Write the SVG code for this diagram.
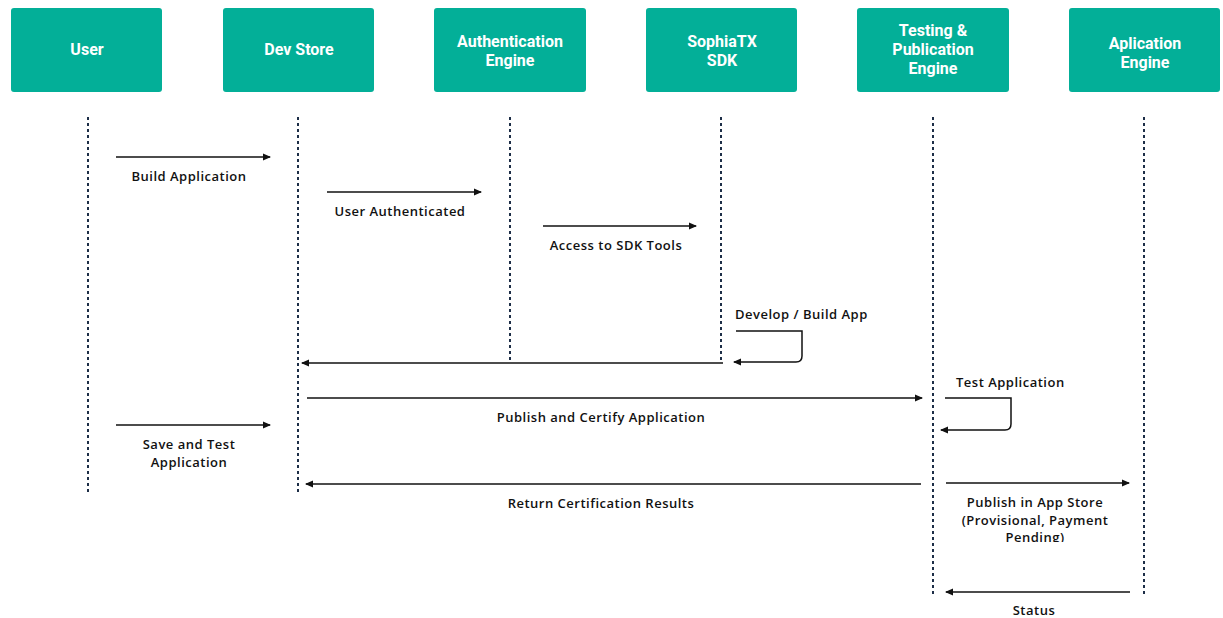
<svg xmlns="http://www.w3.org/2000/svg" width="1223" height="618" viewBox="0 0 1223 618">
<defs>
<style>
.box{fill:#03af98;}
.ht{fill:#ffffff;font-family:Roboto,"Liberation Sans",sans-serif;font-weight:bold;font-size:16px;text-anchor:middle;}
.life{stroke:#1d2e47;stroke-width:2;stroke-dasharray:3 3;fill:none;}
.msg{stroke:#111;stroke-width:1.5;fill:none;}
.lbl{fill:#111;font-family:"Open Sans","Liberation Sans",sans-serif;font-weight:600;font-size:13px;letter-spacing:0.5px;text-anchor:middle;}
.lbls{fill:#111;font-family:"Open Sans","Liberation Sans",sans-serif;font-weight:600;font-size:13px;letter-spacing:0.5px;}
</style>
<marker id="ah" viewBox="0 0 8 8" refX="7" refY="4" markerWidth="8" markerHeight="8" markerUnits="userSpaceOnUse" orient="auto">
<path d="M0,0.5 L8,4 L0,7.5 Z" fill="#111"/>
</marker>
<clipPath id="clipPub"><rect x="940" y="490" width="200" height="52"/></clipPath>
</defs>
<rect width="1223" height="618" fill="#ffffff"/>

<g id="node-user"><rect class="box" x="11" y="8" width="151" height="84" rx="3"/><text class="ht" x="87" y="55">User</text></g>
<g id="node-devstore"><rect class="box" x="223" y="8" width="151" height="84" rx="3"/><text class="ht" x="299" y="55">Dev Store</text></g>
<g id="node-auth"><rect class="box" x="434" y="8" width="152" height="84" rx="3"/><text class="ht" x="510" y="47">Authentication</text><text class="ht" x="510" y="66">Engine</text></g>
<g id="node-sdk"><rect class="box" x="646" y="8" width="151" height="84" rx="3"/><text class="ht" x="722" y="47">SophiaTX</text><text class="ht" x="722" y="66">SDK</text></g>
<g id="node-testing"><rect class="box" x="857" y="8" width="152" height="84" rx="3"/><text class="ht" x="933" y="36">Testing &amp;</text><text class="ht" x="933" y="55">Publication</text><text class="ht" x="933" y="74">Engine</text></g>
<g id="node-app"><rect class="box" x="1069" y="8" width="151" height="84" rx="3"/><text class="ht" x="1145" y="49">Aplication</text><text class="ht" x="1145" y="68">Engine</text></g>

<g id="lifelines">
<line class="life" x1="88" y1="117" x2="88" y2="495"/>
<line class="life" x1="298" y1="117" x2="298" y2="495"/>
<line class="life" x1="510" y1="117" x2="510" y2="360"/>
<line class="life" x1="721" y1="117" x2="721" y2="363"/>
<line class="life" x1="933" y1="117" x2="933" y2="596"/>
<line class="life" x1="1144" y1="117" x2="1144" y2="596"/>
</g>

<g id="connectors">
<line class="msg" x1="116" y1="157" x2="270" y2="157" marker-end="url(#ah)"/>
<line class="msg" x1="327" y1="192" x2="481" y2="192" marker-end="url(#ah)"/>
<line class="msg" x1="543" y1="226" x2="696" y2="226" marker-end="url(#ah)"/>
<path class="msg" d="M736,331 H802 V356 Q802,362 796,362 H734" marker-end="url(#ah)"/>
<line class="msg" x1="723" y1="363" x2="302" y2="363" marker-end="url(#ah)"/>
<line class="msg" x1="307" y1="398" x2="922" y2="398" marker-end="url(#ah)"/>
<path class="msg" d="M945,398 H1011 V424 Q1011,430 1005,430 H941" marker-end="url(#ah)"/>
<line class="msg" x1="116" y1="425" x2="270" y2="425" marker-end="url(#ah)"/>
<line class="msg" x1="921" y1="484" x2="306" y2="484" marker-end="url(#ah)"/>
<line class="msg" x1="946" y1="483" x2="1129" y2="483" marker-end="url(#ah)"/>
<line class="msg" x1="1130" y1="592" x2="946" y2="592" marker-end="url(#ah)"/>
</g>

<g id="labels">
<text class="lbl" x="189" y="181">Build Application</text>
<text class="lbl" x="400" y="216">User Authenticated</text>
<text class="lbl" x="616" y="250">Access to SDK Tools</text>
<text class="lbls" x="735" y="319">Develop / Build App</text>
<text class="lbls" x="956" y="387">Test Application</text>
<text class="lbl" x="601" y="422">Publish and Certify Application</text>
<text class="lbl" x="189" y="449">Save and Test</text>
<text class="lbl" x="189" y="467">Application</text>
<text class="lbl" x="601" y="508">Return Certification Results</text>
<g clip-path="url(#clipPub)">
<text class="lbl" x="1035" y="507">Publish in App Store</text>
<text class="lbl" x="1035" y="525">(Provisional, Payment</text>
<text class="lbl" x="1035" y="542">Pending)</text>
</g>
<text class="lbl" x="1034" y="615">Status</text>
</g>
</svg>
